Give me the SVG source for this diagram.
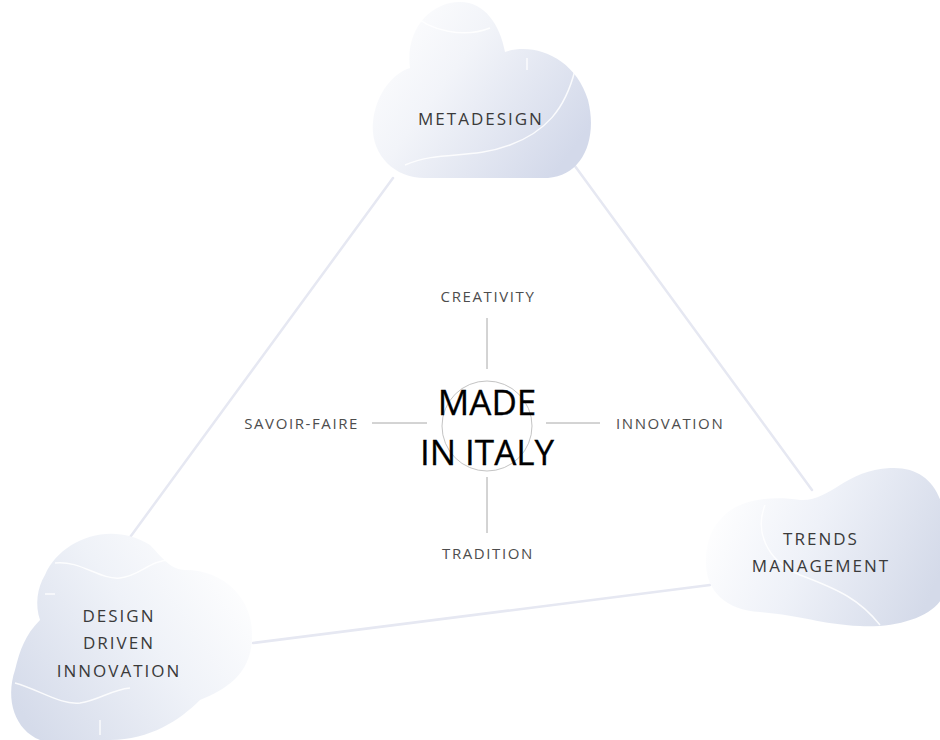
<svg xmlns="http://www.w3.org/2000/svg" width="940" height="740" viewBox="0 0 940 740">
  <defs>
    <linearGradient id="gTop" x1="0" y1="0.1" x2="1" y2="0.7">
      <stop offset="0" stop-color="#ffffff"/>
      <stop offset="0.4" stop-color="#f2f4f9"/>
      <stop offset="1" stop-color="#d3d9ea"/>
    </linearGradient>
    <linearGradient id="gRight" x1="0" y1="0.3" x2="1" y2="0.6">
      <stop offset="0" stop-color="#ffffff"/>
      <stop offset="0.45" stop-color="#eef1f8"/>
      <stop offset="1" stop-color="#d4dae9"/>
    </linearGradient>
    <linearGradient id="gLeft" x1="1" y1="0.2" x2="0" y2="0.8">
      <stop offset="0" stop-color="#ffffff"/>
      <stop offset="0.45" stop-color="#eff2f8"/>
      <stop offset="1" stop-color="#d5dbea"/>
    </linearGradient>
  </defs>
  <style>
    .edge { stroke: #e6e8f2; stroke-width: 2.5; fill: none; stroke-linecap: round; }
    .tick { stroke: #a8a8a8; stroke-width: 1; }
    .vein { stroke: #ffffff; stroke-width: 1.5; fill: none; opacity: 0.85; }
    .cloudlbl { font-family: "Open Sans", "Liberation Sans", sans-serif; font-size: 17px; fill: #3a3a3a; letter-spacing: 2px; text-anchor: middle; }
    .lbl { font-family: "Open Sans", "Liberation Sans", sans-serif; font-size: 15px; fill: #4d4d4d; letter-spacing: 1.6px; }
    .core { font-family: "Open Sans", "Liberation Sans", sans-serif; font-size: 35px; fill: #000000; stroke: #000000; stroke-width: 0.3; text-anchor: middle; }
  </style>
  <rect width="940" height="740" fill="#ffffff"/>

  <!-- triangle edges between the three clouds -->
  <g id="connectors">
    <line class="edge" x1="393" y1="178" x2="128" y2="540"/>
    <line class="edge" x1="572" y1="162" x2="812" y2="490"/>
    <line class="edge" x1="253" y1="643" x2="710" y2="585"/>
  </g>

  <!-- top cloud -->
  <g id="metadesign">
    <path fill="url(#gTop)" d="M 410 68 C 405 30 430 2 460 2 C 485 2 500 25 505 52 C 535 42 575 58 588 100 C 598 140 582 176 548 178 L 425 178 C 392 178 370 152 373 122 C 376 92 395 72 410 68 Z"/>
    <path class="vein" d="M 410 12 C 430 32 465 38 490 28"/>
    <path class="vein" d="M 405 165 C 440 150 470 160 510 145 C 545 132 565 110 575 70"/>
    <line class="vein" x1="527" y1="58" x2="527" y2="70"/>
    <text class="cloudlbl" x="481" y="125">METADESIGN</text>
  </g>

  <!-- right cloud -->
  <g id="trends-management">
    <path fill="url(#gRight)" d="M 720 520 C 735 500 770 495 800 500 C 830 502 845 470 890 468 C 925 466 945 490 945 530 L 945 590 C 940 615 900 628 860 626 C 820 624 800 615 760 612 C 725 610 705 590 706 560 C 706 542 712 528 720 520 Z"/>
    <path class="vein" d="M 765 505 C 755 530 765 560 800 575 C 840 590 860 600 880 625"/>
    <text class="cloudlbl" x="821" y="545">TRENDS</text>
    <text class="cloudlbl" x="821" y="572">MANAGEMENT</text>
  </g>

  <!-- bottom-left cloud -->
  <g id="design-driven-innovation">
    <path fill="url(#gLeft)" d="M 45 575 C 60 540 110 520 150 545 C 160 555 170 570 185 570 C 225 570 255 600 252 640 C 250 675 225 690 200 700 C 180 720 150 740 110 740 L 40 740 C 15 730 5 700 15 670 C 20 650 25 635 40 620 C 35 605 37 588 45 575 Z"/>
    <path class="vein" d="M 55 563 C 80 560 100 580 120 578 C 140 576 150 560 170 560"/>
    <path class="vein" d="M 15 683 C 40 690 60 705 80 703 C 100 700 110 690 130 688"/>
    <line class="vein" x1="45" y1="594" x2="55" y2="594"/>
    <line class="vein" x1="100" y1="720" x2="100" y2="735"/>
    <text class="cloudlbl" x="119" y="622">DESIGN</text>
    <text class="cloudlbl" x="119" y="649">DRIVEN</text>
    <text class="cloudlbl" x="119" y="677">INNOVATION</text>
  </g>

  <!-- central hub -->
  <g id="made-in-italy">
    <circle cx="487" cy="426" r="45" fill="none" stroke="#c4c4c4" stroke-width="1"/>
    <line class="tick" x1="487" y1="318" x2="487" y2="369"/>
    <line class="tick" x1="487" y1="477" x2="487" y2="533"/>
    <line class="tick" x1="372" y1="423" x2="427" y2="423"/>
    <line class="tick" x1="546" y1="423" x2="600" y2="423"/>
    <text class="core" x="487" y="415">MADE</text>
    <text class="core" x="487" y="465">IN ITALY</text>
  </g>

  <g id="creativity"><text class="lbl" x="488" y="302" text-anchor="middle">CREATIVITY</text></g>
  <g id="savoir-faire"><text class="lbl" x="359" y="429" text-anchor="end">SAVOIR-FAIRE</text></g>
  <g id="innovation"><text class="lbl" x="616" y="429">INNOVATION</text></g>
  <g id="tradition"><text class="lbl" x="488" y="559" text-anchor="middle">TRADITION</text></g>
</svg>
